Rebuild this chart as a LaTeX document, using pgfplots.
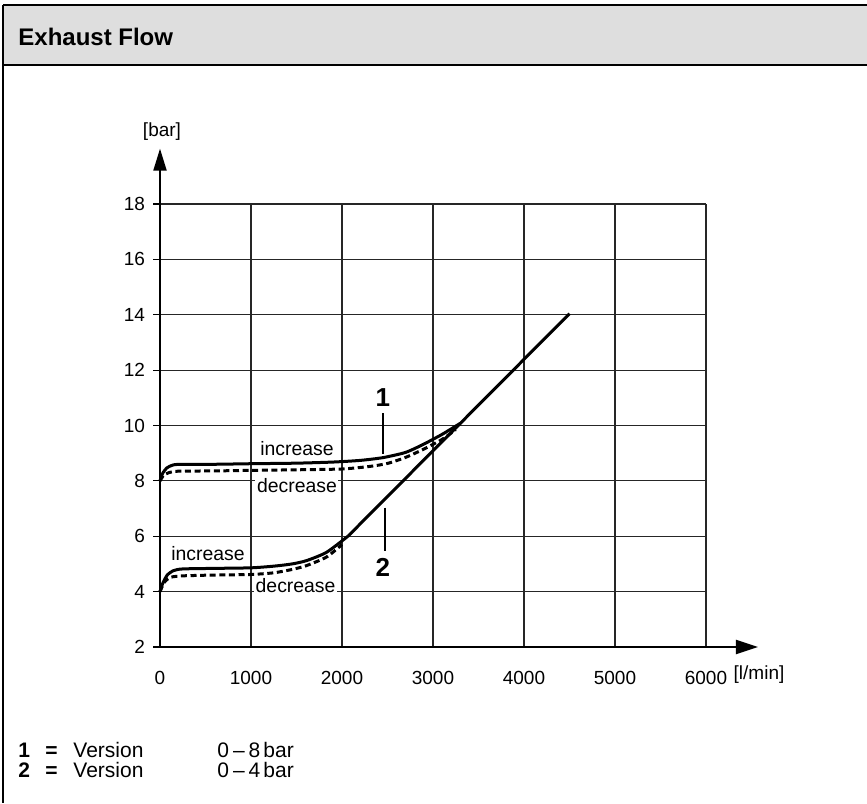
\documentclass[border=0pt]{standalone}
\usepackage{fontspec}
\setmainfont{Liberation Sans}
\usepackage{pgfplots}
\pgfplotsset{compat=1.18}
\usetikzlibrary{arrows.meta}
\begin{document}
\begin{tikzpicture}
\useasboundingbox (0,0) rectangle (433.5pt,-401.5pt);
% header band
\fill[black!13] (1.5pt,-2.5pt) rectangle (433.5pt,-32.5pt);
\draw[line width=0.8pt] (1.5pt,-2.5pt) -- (433.5pt,-2.5pt);
\draw[line width=1pt] (1.5pt,-32.5pt) -- (433.5pt,-32.5pt);
\draw[line width=0.8pt] (1.5pt,-2.5pt) -- (1.5pt,-401.5pt);
\node[anchor=base west, inner sep=0pt, font=\fontsize{12}{15}\selectfont\bfseries] at (9pt,-23pt) {Exhaust Flow};
\begin{axis}[
  at={(80pt,-323.5pt)}, anchor=south west,
  scale only axis, width=273pt, height=221.5pt,
  xmin=0, xmax=6000, ymin=2, ymax=18,
  xtick={0,1000,...,6000}, ytick={2,4,...,18},
  grid=major, major grid style={black!85, line width=0.6pt},
  axis line style={draw=none},
  clip=false,
  xtick pos=bottom, ytick pos=left,
  tick align=outside,
  major tick length=3.5pt,
  x tick style={draw=none},
  y tick style={black, line width=0.6pt},
  /pgf/number format/assume math mode=true,
  /pgf/number format/1000 sep={},
  tick label style={font=\fontsize{9.5}{11}\selectfont},
  xticklabel style={yshift=-5pt},
  yticklabel style={xshift=-0.5pt},
]
% axis arrows
\draw[line width=1pt, -{Triangle[length=11pt,width=7pt]}] (axis cs:0,2) -- (axis cs:6571,2);
\draw[line width=1pt, -{Triangle[length=11pt,width=6.5pt]}] (axis cs:0,2) -- (axis cs:0,20);

% Version 1, increase (solid)
\addplot[black, line width=1.5pt, smooth, tension=0.4] coordinates {
 (0,8.0) (30,8.28) (80,8.48) (150,8.58) (250,8.6) (600,8.6) (1000,8.62) (1500,8.64)
 (1900,8.68) (2200,8.74) (2450,8.84) (2700,9.03) (2900,9.33) (3100,9.68) (3300,10.08)
};
% Version 1, decrease (dashed)
\addplot[black, line width=1.5pt, smooth, tension=0.4, dash pattern=on 3pt off 1.8pt] coordinates {
 (0,8.0) (40,8.2) (100,8.3) (200,8.35) (600,8.36) (1000,8.38) (1500,8.4) (2000,8.43)
 (2300,8.52) (2500,8.63) (2700,8.85) (2900,9.15) (3100,9.5) (3250,9.85)
};
% Version 2, increase (solid)
\addplot[black, line width=1.5pt, smooth, tension=0.4] coordinates {
 (0,4.0) (30,4.3) (80,4.6) (150,4.76) (250,4.82) (600,4.84) (1000,4.86) (1250,4.92)
 (1450,5.0) (1610,5.12) (1830,5.42) (2065,6.0)
};
% Version 2, decrease (dashed)
\addplot[black, line width=1.5pt, smooth, tension=0.4, dash pattern=on 3pt off 1.8pt] coordinates {
 (0,4.0) (50,4.35) (120,4.52) (250,4.57) (600,4.6) (1000,4.62) (1250,4.68)
 (1450,4.8) (1610,4.94) (1830,5.25) (2000,5.7)
};
% common straight line
\addplot[black, line width=1.5pt] coordinates {(2065,6.0) (4500,14.04)};

% curve labels
\node[fill=white, inner sep=0.8pt, font=\fontsize{9.7}{12}\selectfont] at (axis cs:1505,9.16) {increase};
\node[fill=white, inner sep=0.8pt, font=\fontsize{9.7}{12}\selectfont] at (axis cs:1505,7.82) {decrease};
\node[inner sep=0.8pt, font=\fontsize{9.7}{12}\selectfont] at (axis cs:527,5.37) {increase};
\node[fill=white, inner sep=0.8pt, font=\fontsize{9.7}{12}\selectfont] at (axis cs:1490,4.22) {decrease};
\node[font=\fontsize{13}{15}\selectfont\bfseries] at (axis cs:2450,11.0) {1};
\draw[black, line width=0.6pt] (axis cs:2450,10.45) -- (axis cs:2450,8.97);
\node[font=\fontsize{13}{15}\selectfont\bfseries] at (axis cs:2450,4.87) {2};
\draw[black, line width=0.6pt] (axis cs:2473,7.03) -- (axis cs:2473,5.48);

% unit labels
\node[font=\fontsize{9.5}{11}\selectfont] at (axis cs:22,20.63) {[bar]};
\node[anchor=west, inner sep=0pt, font=\fontsize{9.5}{11}\selectfont] at (axis cs:6300,1.0) {[l/min]};
\end{axis}
% legend
\node[anchor=base west, inner sep=0pt, font=\fontsize{10.5}{12}\selectfont\bfseries] at (9pt,-378.5pt) {1};
\node[anchor=base west, inner sep=0pt, font=\fontsize{10.5}{12}\selectfont\bfseries] at (22.5pt,-378.5pt) {=};
\node[anchor=base west, inner sep=0pt, font=\fontsize{10.5}{12}\selectfont] at (36.5pt,-378.5pt) {Version};
\node[anchor=base west, inner sep=0pt, font=\fontsize{10.5}{12}\selectfont] at (108.5pt,-378.5pt) {0\hspace{2pt}\textendash\hspace{2pt}8\hspace{1.5pt}bar};
\node[anchor=base west, inner sep=0pt, font=\fontsize{10.5}{12}\selectfont\bfseries] at (9pt,-388.5pt) {2};
\node[anchor=base west, inner sep=0pt, font=\fontsize{10.5}{12}\selectfont\bfseries] at (22.5pt,-388.5pt) {=};
\node[anchor=base west, inner sep=0pt, font=\fontsize{10.5}{12}\selectfont] at (36.5pt,-388.5pt) {Version};
\node[anchor=base west, inner sep=0pt, font=\fontsize{10.5}{12}\selectfont] at (108.5pt,-388.5pt) {0\hspace{2pt}\textendash\hspace{2pt}4\hspace{1.5pt}bar};
\end{tikzpicture}
\end{document}
